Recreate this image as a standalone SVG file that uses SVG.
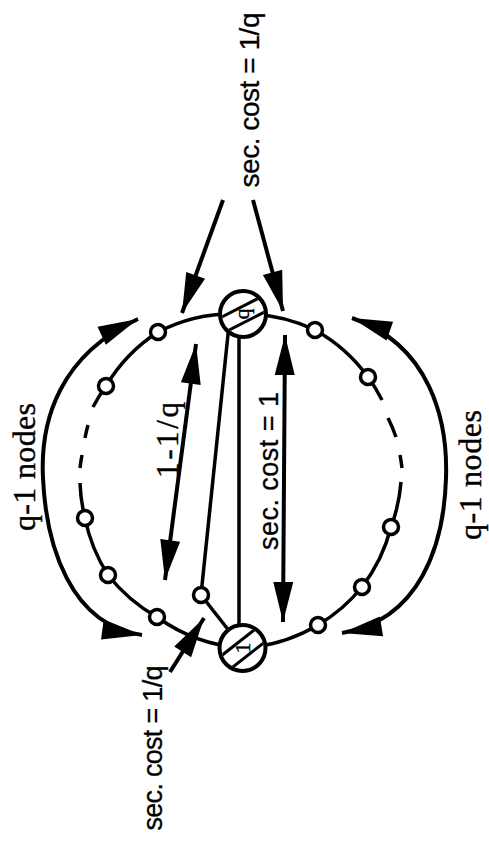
<svg xmlns="http://www.w3.org/2000/svg" width="489" height="844" viewBox="0 0 489 844">
<style>
.ring{fill:none;stroke:#000;stroke-width:3.5}
.ln{fill:none;stroke:#000;stroke-width:3.5}
.arr{fill:none;stroke:#000;stroke-width:4}
.sn{fill:#fff;stroke:#000;stroke-width:3.5}
.bn{fill:#fff;stroke:#000;stroke-width:4}
.hatch{stroke:#000;stroke-width:3}
.serif{font-family:"Liberation Serif","Times New Roman",serif;fill:#000;stroke:#000;stroke-width:0.4}
.sans{font-family:"Liberation Sans",Arial,sans-serif;fill:#000;stroke:#000;stroke-width:0.3}
</style>
<defs>
<marker id="ah" markerUnits="userSpaceOnUse" orient="auto-start-reverse" markerWidth="42" markerHeight="22" refX="40" refY="11" viewBox="0 0 42 22" overflow="visible"><path d="M0,1 L40,11 L0,21 Z" fill="#000"/></marker>
<clipPath id="cq"><circle cx="243" cy="314" r="21"/></clipPath>
<clipPath id="c1"><circle cx="242.5" cy="648" r="21"/></clipPath>
</defs>

<g id="connectors">
<path class="ring" d="M243,314 A165,165 0 0 0 158,332 A165,165 0 0 0 106,386 A165,165 0 0 0 93,407 M88,425 A165,165 0 0 0 85,438 M82,455 A165,165 0 0 0 80,468 M80,483 A165,165 0 0 0 85,518 A165,165 0 0 0 108,575 A165,165 0 0 0 157,617 A165,165 0 0 0 242.5,648"/>
<path class="ring" d="M243,314 A165,165 0 0 1 315,330 A165,165 0 0 1 368,377 A165,165 0 0 1 382,400 M388,418 A165,165 0 0 1 396,437 M400,455 A165,165 0 0 1 402,468 M401,482 A165,165 0 0 1 391,527 A165,165 0 0 1 362,587 A165,165 0 0 1 318,625 A165,165 0 0 1 242.5,648"/>
<line class="ln" x1="229.5" y1="320" x2="201" y2="595"/>
<line class="ln" x1="239" y1="320" x2="239" y2="640"/>
<line class="ln" x1="201" y1="595" x2="242.5" y2="648"/>
<line class="arr" x1="196" y1="344" x2="165" y2="580" marker-start="url(#ah)" marker-end="url(#ah)"/>
<line class="arr" x1="285" y1="335" x2="283" y2="622" marker-start="url(#ah)" marker-end="url(#ah)"/>
<line class="arr" x1="223" y1="200" x2="182" y2="313" marker-end="url(#ah)"/>
<line class="arr" x1="253" y1="200" x2="283" y2="311" marker-end="url(#ah)"/>
<line class="arr" x1="170" y1="672" x2="204" y2="618" marker-end="url(#ah)"/>
<path class="arr" d="M138,319 C60,355 40,420 43,478 C46,545 70,625 142,635" marker-start="url(#ah)" marker-end="url(#ah)"/>
<path class="arr" d="M352,318 C430,345 448,420 446,478 C444,545 420,620 342,633" marker-start="url(#ah)" marker-end="url(#ah)"/>
</g>

<g id="small-nodes">
<circle class="sn" cx="158" cy="332" r="7.5"/>
<circle class="sn" cx="106" cy="386" r="7.5"/>
<circle class="sn" cx="85" cy="518" r="7.5"/>
<circle class="sn" cx="108" cy="575" r="7.5"/>
<circle class="sn" cx="157" cy="617" r="7.5"/>
<circle class="sn" cx="315" cy="330" r="7.5"/>
<circle class="sn" cx="368" cy="377" r="7.5"/>
<circle class="sn" cx="391" cy="527" r="7.5"/>
<circle class="sn" cx="362" cy="587" r="7.5"/>
<circle class="sn" cx="318" cy="625" r="7.5"/>
<circle class="sn" cx="201" cy="595" r="7.5"/>
</g>

<g id="node-q">
<circle class="bn" cx="243" cy="314" r="23"/>
<g clip-path="url(#cq)">
<line class="hatch" x1="213" y1="321.4" x2="266.5" y2="294.2"/>
<line class="hatch" x1="220" y1="334.7" x2="273.3" y2="307.5"/>
</g>
<text class="serif" font-size="22" text-anchor="middle" transform="translate(249,314) rotate(-90)">q</text>
</g>

<g id="node-1">
<circle class="bn" cx="242.5" cy="648" r="23"/>
<g clip-path="url(#c1)">
<line class="hatch" x1="214.6" y1="661" x2="261.8" y2="624"/>
<line class="hatch" x1="224.4" y1="673.6" x2="271.6" y2="636.6"/>
</g>
<text class="serif" font-size="22" text-anchor="middle" transform="translate(250,648) rotate(-90)">1</text>
</g>

<g id="labels">
<text class="sans" font-size="28" text-anchor="middle" textLength="175" lengthAdjust="spacing" transform="translate(259,100) rotate(-90)">sec. cost = 1/q</text>
<text class="sans" font-size="27" text-anchor="middle" textLength="165" lengthAdjust="spacing" transform="translate(162,748) rotate(-90)">sec. cost = 1/q</text>
<text class="sans" font-size="27" text-anchor="middle" textLength="158" lengthAdjust="spacing" transform="translate(278,471) rotate(-90)">sec. cost = 1</text>
<text class="serif" font-size="31" text-anchor="middle" textLength="76" lengthAdjust="spacing" transform="translate(178,440) rotate(-90)">1-1/q</text>
<text class="serif" font-size="32" text-anchor="middle" textLength="128" lengthAdjust="spacing" transform="translate(35,467) rotate(-90)">q-1 nodes</text>
<text class="serif" font-size="32" text-anchor="middle" textLength="130" lengthAdjust="spacing" transform="translate(481,475) rotate(-90)">q-1 nodes</text>
</g>
</svg>
